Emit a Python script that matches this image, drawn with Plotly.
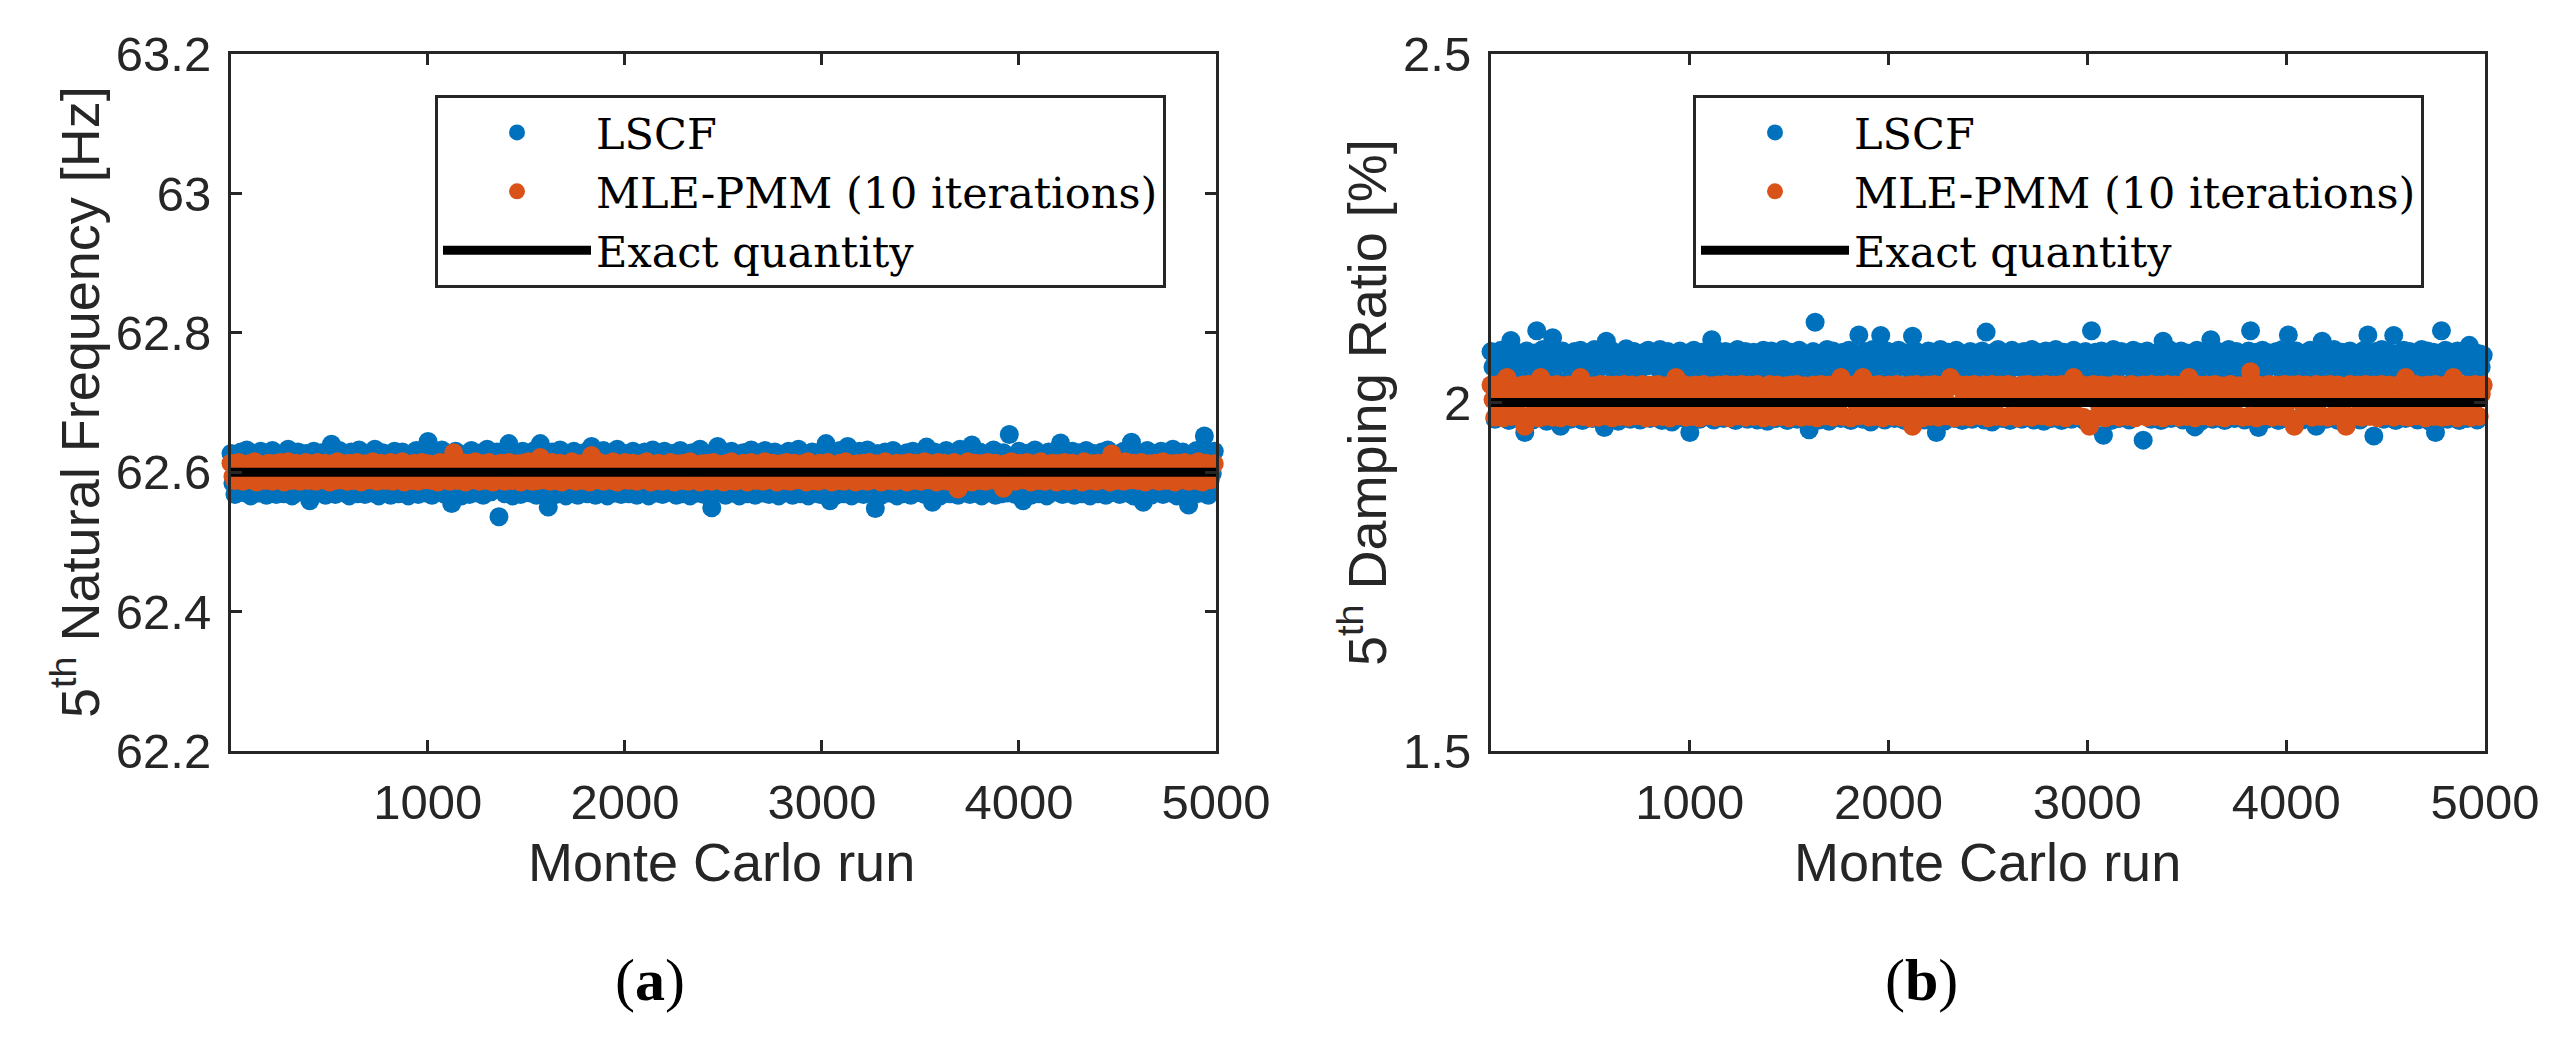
import plotly.graph_objects as go

# Monte Carlo run index (every 10th run is shown)
runs = list(range(1, 5001, 10))

EXACT_FREQ = 62.6
EXACT_DAMP = 2.0

# (a) 5th natural frequency [Hz]
lscf_freq = [
    62.627, 62.584, 62.568, 62.603, 62.619, 62.629, 62.571, 62.593, 62.632, 62.608, 62.566, 62.588, 62.624, 62.598, 62.570, 62.630, 62.612, 62.579, 62.567, 62.628,
    62.596, 62.631, 62.574, 62.568, 62.617, 62.626, 62.590, 62.569, 62.605, 62.633, 62.581, 62.566, 62.622, 62.600, 62.629, 62.572, 62.587, 62.614, 62.627, 62.567,
    62.559, 62.609, 62.630, 62.583, 62.570, 62.621, 62.628, 62.594, 62.567, 62.606, 62.573, 62.640, 62.589, 62.568, 62.615, 62.631, 62.599, 62.571, 62.625, 62.585,
    62.566, 62.629, 62.611, 62.576, 62.569, 62.632, 62.597, 62.620, 62.568, 62.586, 62.627, 62.602, 62.570, 62.633, 62.580, 62.566, 62.616, 62.628, 62.591, 62.572,
    62.624, 62.567, 62.607, 62.630, 62.583, 62.569, 62.618, 62.629, 62.595, 62.571, 62.566, 62.626, 62.604, 62.578, 62.631, 62.568, 62.589, 62.622, 62.613, 62.570,
    62.644, 62.592, 62.567, 62.610, 62.628, 62.574, 62.599, 62.632, 62.569, 62.584, 62.620, 62.627, 62.555, 62.605, 62.630, 62.571, 62.590, 62.566, 62.625, 62.614,
    62.578, 62.568, 62.631, 62.601, 62.621, 62.570, 62.587, 62.628, 62.567, 62.610, 62.633, 62.596, 62.572, 62.618, 62.582, 62.629, 62.536, 62.606, 62.626, 62.569,
    62.593, 62.641, 62.571, 62.566, 62.615, 62.627, 62.585, 62.568, 62.630, 62.603, 62.575, 62.622, 62.570, 62.598, 62.631, 62.567, 62.612, 62.641, 62.588, 62.569,
    62.624, 62.550, 62.607, 62.629, 62.580, 62.568, 62.617, 62.632, 62.594, 62.570, 62.566, 62.626, 62.600, 62.583, 62.630, 62.571, 62.567, 62.620, 62.609, 62.628,
    62.576, 62.569, 62.613, 62.637, 62.590, 62.567, 62.625, 62.604, 62.572, 62.631, 62.584, 62.566, 62.619, 62.628, 62.597, 62.570, 62.633, 62.608, 62.568, 62.581,
    62.627, 62.602, 62.569, 62.616, 62.630, 62.586, 62.567, 62.621, 62.594, 62.571, 62.629, 62.611, 62.566, 62.578, 62.632, 62.599, 62.570, 62.624, 62.587, 62.568,
    62.630, 62.606, 62.572, 62.615, 62.627, 62.583, 62.567, 62.596, 62.631, 62.569, 62.610, 62.622, 62.575, 62.566, 62.628, 62.600, 62.589, 62.570, 62.633, 62.614,
    62.568, 62.592, 62.626, 62.608, 62.549, 62.619, 62.580, 62.637, 62.571, 62.597, 62.629, 62.567, 62.612, 62.585, 62.630, 62.570, 62.603, 62.624, 62.566, 62.591,
    62.628, 62.574, 62.569, 62.617, 62.632, 62.595, 62.567, 62.609, 62.626, 62.582, 62.570, 62.631, 62.601, 62.568, 62.620, 62.588, 62.629, 62.572, 62.566, 62.613,
    62.625, 62.598, 62.571, 62.630, 62.586, 62.567, 62.618, 62.605, 62.633, 62.569, 62.579, 62.627, 62.593, 62.566, 62.611, 62.629, 62.570, 62.600, 62.622, 62.568,
    62.584, 62.615, 62.641, 62.572, 62.559, 62.628, 62.596, 62.567, 62.621, 62.631, 62.589, 62.569, 62.607, 62.637, 62.575, 62.566, 62.626, 62.612, 62.570, 62.630,
    62.599, 62.568, 62.623, 62.632, 62.581, 62.571, 62.614, 62.548, 62.627, 62.604, 62.567, 62.590, 62.629, 62.619, 62.570, 62.577, 62.631, 62.596, 62.566, 62.625,
    62.610, 62.569, 62.587, 62.628, 62.601, 62.567, 62.630, 62.574, 62.620, 62.571, 62.594, 62.626, 62.568, 62.636, 62.606, 62.583, 62.557, 62.629, 62.613, 62.570,
    62.566, 62.624, 62.597, 62.631, 62.578, 62.569, 62.616, 62.627, 62.589, 62.567, 62.633, 62.603, 62.572, 62.621, 62.585, 62.568, 62.639, 62.609, 62.570, 62.592,
    62.629, 62.566, 62.612, 62.626, 62.580, 62.571, 62.598, 62.632, 62.567, 62.618, 62.605, 62.569, 62.628, 62.587, 62.570, 62.654, 62.623, 62.595, 62.568, 62.614,
    62.630, 62.583, 62.559, 62.607, 62.627, 62.572, 62.567, 62.620, 62.632, 62.591, 62.569, 62.611, 62.626, 62.576, 62.566, 62.629, 62.600, 62.571, 62.617, 62.631,
    62.588, 62.642, 62.568, 62.604, 62.625, 62.570, 62.593, 62.630, 62.567, 62.613, 62.628, 62.581, 62.569, 62.622, 62.631, 62.597, 62.566, 62.608, 62.627, 62.574,
    62.569, 62.616, 62.629, 62.586, 62.567, 62.632, 62.602, 62.571, 62.621, 62.578, 62.626, 62.568, 62.610, 62.630, 62.592, 62.570, 62.624, 62.643, 62.566, 62.599,
    62.628, 62.583, 62.569, 62.557, 62.619, 62.631, 62.595, 62.567, 62.606, 62.627, 62.572, 62.614, 62.630, 62.568, 62.589, 62.625, 62.601, 62.570, 62.633, 62.579,
    62.566, 62.622, 62.608, 62.629, 62.571, 62.594, 62.553, 62.626, 62.585, 62.568, 62.631, 62.612, 62.570, 62.603, 62.652, 62.577, 62.567, 62.628, 62.598, 62.630,
]
mle_freq = [
    62.613, 62.594, 62.588, 62.605, 62.614, 62.598, 62.587, 62.610, 62.601, 62.612, 62.589, 62.596, 62.615, 62.586, 62.603, 62.611, 62.592, 62.588, 62.607, 62.613,
    62.597, 62.587, 62.612, 62.601, 62.589, 62.614, 62.593, 62.586, 62.609, 62.615, 62.599, 62.588, 62.604, 62.613, 62.590, 62.587, 62.611, 62.602, 62.614, 62.588,
    62.606, 62.612, 62.591, 62.587, 62.614, 62.600, 62.589, 62.608, 62.613, 62.595, 62.586, 62.610, 62.603, 62.588, 62.615, 62.597, 62.589, 62.612, 62.605, 62.587,
    62.613, 62.593, 62.588, 62.609, 62.614, 62.599, 62.586, 62.604, 62.612, 62.590, 62.589, 62.611, 62.615, 62.596, 62.587, 62.607, 62.613, 62.601, 62.588, 62.610,
    62.592, 62.614, 62.587, 62.603, 62.612, 62.589, 62.598, 62.615, 62.586, 62.606, 62.611, 62.594, 62.588, 62.613, 62.600, 62.587, 62.609, 62.614, 62.591, 62.589,
    62.612, 62.602, 62.588, 62.611, 62.595, 62.586, 62.614, 62.605, 62.589, 62.613, 62.598, 62.587, 62.610, 62.628, 62.592, 62.588, 62.607, 62.614, 62.600, 62.586,
    62.613, 62.596, 62.589, 62.609, 62.615, 62.591, 62.587, 62.604, 62.612, 62.599, 62.588, 62.614, 62.606, 62.586, 62.611, 62.593, 62.589, 62.613, 62.602, 62.587,
    62.610, 62.614, 62.594, 62.588, 62.607, 62.612, 62.590, 62.586, 62.613, 62.601, 62.589, 62.615, 62.597, 62.587, 62.611, 62.604, 62.588, 62.621, 62.593, 62.589,
    62.612, 62.600, 62.587, 62.614, 62.608, 62.588, 62.595, 62.613, 62.586, 62.605, 62.611, 62.591, 62.589, 62.615, 62.598, 62.587, 62.609, 62.612, 62.594, 62.588,
    62.613, 62.603, 62.586, 62.624, 62.596, 62.589, 62.610, 62.614, 62.592, 62.587, 62.606, 62.612, 62.599, 62.588, 62.615, 62.601, 62.586, 62.611, 62.594, 62.589,
    62.614, 62.597, 62.588, 62.608, 62.613, 62.590, 62.587, 62.604, 62.612, 62.598, 62.589, 62.615, 62.602, 62.586, 62.610, 62.593, 62.588, 62.613, 62.606, 62.587,
    62.611, 62.595, 62.589, 62.614, 62.600, 62.586, 62.609, 62.612, 62.592, 62.588, 62.613, 62.604, 62.587, 62.615, 62.597, 62.589, 62.610, 62.601, 62.586, 62.612,
    62.594, 62.588, 62.613, 62.605, 62.587, 62.614, 62.599, 62.589, 62.611, 62.608, 62.586, 62.612, 62.593, 62.588, 62.615, 62.602, 62.587, 62.610, 62.596, 62.589,
    62.613, 62.603, 62.586, 62.611, 62.614, 62.591, 62.588, 62.607, 62.612, 62.597, 62.587, 62.615, 62.600, 62.589, 62.609, 62.613, 62.594, 62.586, 62.606, 62.612,
    62.590, 62.588, 62.614, 62.601, 62.587, 62.611, 62.613, 62.596, 62.589, 62.608, 62.612, 62.593, 62.586, 62.615, 62.604, 62.588, 62.610, 62.598, 62.587, 62.613,
    62.605, 62.589, 62.612, 62.614, 62.592, 62.586, 62.609, 62.601, 62.588, 62.613, 62.597, 62.587, 62.615, 62.606, 62.589, 62.611, 62.594, 62.586, 62.612, 62.600,
    62.588, 62.613, 62.603, 62.587, 62.614, 62.596, 62.589, 62.610, 62.612, 62.591, 62.586, 62.607, 62.615, 62.599, 62.588, 62.611, 62.604, 62.587, 62.613, 62.595,
    62.589, 62.612, 62.600, 62.586, 62.614, 62.608, 62.588, 62.593, 62.613, 62.602, 62.587, 62.611, 62.615, 62.597, 62.589, 62.605, 62.612, 62.590, 62.586, 62.614,
    62.601, 62.588, 62.613, 62.609, 62.587, 62.594, 62.612, 62.614, 62.598, 62.576, 62.606, 62.611, 62.589, 62.592, 62.615, 62.603, 62.586, 62.610, 62.613, 62.596,
    62.588, 62.612, 62.604, 62.587, 62.614, 62.599, 62.589, 62.611, 62.613, 62.593, 62.586, 62.607, 62.577, 62.612, 62.601, 62.588, 62.615, 62.609, 62.587, 62.595,
    62.613, 62.602, 62.589, 62.611, 62.614, 62.591, 62.586, 62.606, 62.612, 62.598, 62.588, 62.615, 62.603, 62.587, 62.610, 62.594, 62.589, 62.613, 62.608, 62.586,
    62.612, 62.597, 62.588, 62.614, 62.605, 62.587, 62.610, 62.613, 62.592, 62.589, 62.611, 62.600, 62.586, 62.615, 62.596, 62.588, 62.609, 62.612, 62.603, 62.587,
    62.613, 62.594, 62.589, 62.610, 62.614, 62.599, 62.586, 62.626, 62.605, 62.588, 62.612, 62.611, 62.591, 62.587, 62.615, 62.602, 62.589, 62.608, 62.613, 62.596,
    62.588, 62.611, 62.614, 62.600, 62.586, 62.607, 62.612, 62.593, 62.589, 62.613, 62.604, 62.587, 62.610, 62.615, 62.597, 62.588, 62.609, 62.612, 62.590, 62.586,
    62.613, 62.603, 62.589, 62.611, 62.614, 62.595, 62.587, 62.606, 62.612, 62.599, 62.588, 62.615, 62.601, 62.586, 62.610, 62.613, 62.592, 62.589, 62.608, 62.612,
]

# (b) 5th damping ratio [%]
lscf_damp = [
    2.073, 2.051, 1.976, 2.034, 2.058, 2.075, 2.012, 2.047, 2.070, 1.974, 2.089, 2.055, 2.026, 2.072, 1.977, 2.049, 2.061, 1.957, 2.074, 2.040,
    2.053, 1.975, 2.071, 2.103, 2.046, 2.018, 2.076, 2.057, 1.973, 2.038, 2.072, 2.093, 2.050, 2.062, 1.978, 1.966, 2.074, 2.029, 2.055, 2.070,
    1.976, 2.048, 2.073, 2.059, 2.007, 2.075, 1.974, 2.052, 2.071, 2.035, 2.060, 1.977, 2.076, 2.045, 2.022, 2.072, 2.056, 1.964, 2.088, 1.975,
    2.050, 2.074, 2.031, 2.062, 1.973, 2.070, 2.047, 2.015, 2.077, 2.054, 1.976, 2.039, 2.073, 2.058, 2.044, 1.975, 2.071, 2.024, 2.052, 2.075,
    1.977, 2.057, 2.072, 2.003, 2.049, 2.076, 1.974, 2.061, 2.036, 2.073, 2.046, 1.972, 2.070, 2.055, 2.027, 2.074, 1.978, 2.051, 2.063, 2.071,
    1.957, 2.048, 2.075, 2.033, 2.059, 1.976, 2.072, 2.044, 2.019, 2.070, 2.056, 2.090, 1.975, 2.052, 2.074, 2.041, 2.060, 1.977, 2.073, 2.047,
    2.071, 2.009, 2.054, 1.974, 2.076, 2.049, 2.062, 2.030, 2.073, 1.976, 2.045, 2.058, 2.072, 2.021, 1.975, 2.070, 2.053, 2.075, 2.037, 1.973,
    2.060, 2.074, 2.046, 1.977, 2.071, 2.055, 2.013, 2.076, 2.048, 1.974, 2.063, 2.072, 2.034, 2.051, 1.976, 2.075, 2.057, 2.026, 2.070, 2.044,
    1.961, 2.052, 2.073, 2.115, 2.059, 1.975, 2.071, 2.040, 2.047, 2.076, 1.973, 2.056, 2.074, 2.016, 2.062, 2.049, 1.977, 2.072, 2.035, 2.058,
    2.075, 1.974, 2.050, 2.071, 2.028, 2.097, 2.054, 1.976, 2.073, 2.061, 2.045, 1.972, 2.076, 2.052, 2.011, 2.070, 2.096, 2.047, 1.975, 2.074,
    2.057, 2.038, 2.072, 1.977, 2.049, 2.075, 2.063, 2.024, 1.974, 2.071, 2.055, 2.046, 2.095, 1.976, 2.073, 2.052, 2.032, 2.070, 1.975, 2.059,
    2.074, 2.048, 2.017, 2.071, 1.957, 2.060, 2.076, 2.043, 1.973, 2.054, 2.072, 2.029, 2.058, 1.977, 2.075, 2.050, 2.062, 1.974, 2.070, 2.036,
    2.053, 2.073, 1.976, 2.046, 2.071, 2.008, 2.061, 2.074, 1.975, 2.101, 2.049, 2.056, 1.972, 2.072, 2.039, 2.076, 2.052, 1.977, 2.063, 2.070,
    2.044, 1.974, 2.075, 2.057, 2.023, 2.071, 2.050, 1.976, 2.073, 2.060, 2.014, 2.047, 2.076, 1.975, 2.055, 2.072, 2.033, 2.062, 1.973, 2.074,
    2.051, 2.070, 1.977, 2.045, 2.076, 2.058, 2.027, 1.974, 2.072, 2.053, 2.063, 2.040, 1.976, 2.075, 2.048, 2.019, 2.071, 2.059, 1.975, 2.073,
    2.056, 2.046, 2.103, 1.976, 2.072, 2.035, 2.061, 2.074, 1.953, 2.050, 2.070, 2.058, 1.974, 2.076, 2.042, 2.053, 1.977, 2.073, 2.025, 2.064,
    2.071, 1.975, 2.049, 2.075, 2.057, 2.012, 2.072, 2.044, 1.946, 2.060, 2.074, 2.052, 1.976, 2.070, 2.037, 2.063, 2.073, 1.974, 2.088, 2.048,
    2.055, 2.076, 1.977, 2.041, 2.072, 2.059, 2.020, 2.074, 1.975, 2.050, 2.071, 2.062, 2.031, 2.047, 1.965, 2.075, 2.056, 1.973, 2.070, 2.044,
    2.061, 2.072, 2.090, 1.976, 2.053, 2.074, 2.009, 2.046, 2.071, 1.974, 2.058, 2.076, 2.038, 2.050, 1.977, 2.073, 2.063, 2.027, 2.070, 1.975,
    2.049, 2.074, 2.103, 2.057, 2.035, 2.072, 1.964, 2.060, 2.075, 2.045, 1.976, 2.052, 2.071, 2.016, 2.064, 2.073, 1.974, 2.048, 2.076, 2.056,
    2.072, 2.097, 1.977, 2.043, 2.059, 2.074, 2.024, 2.051, 1.975, 2.070, 2.062, 2.047, 2.075, 2.033, 1.973, 1.966, 2.056, 2.071, 2.088, 2.050,
    1.976, 2.073, 2.058, 2.014, 2.076, 2.046, 1.974, 2.061, 2.072, 2.039, 2.053, 1.977, 2.074, 2.049, 2.028, 2.070, 2.063, 1.975, 2.055, 2.075,
    2.044, 2.097, 2.071, 2.057, 1.952, 2.073, 2.050, 2.019, 2.076, 1.976, 2.060, 2.072, 2.042, 2.054, 2.096, 1.974, 2.070, 2.047, 2.064, 2.075,
    1.977, 2.052, 2.073, 2.036, 2.058, 2.071, 1.975, 2.045, 2.076, 2.061, 2.011, 2.074, 1.973, 2.050, 2.072, 1.957, 2.056, 2.070, 2.103, 2.043,
    2.075, 1.976, 2.059, 2.072, 2.030, 2.048, 2.074, 1.974, 2.062, 2.071, 2.053, 1.977, 2.082, 2.046, 2.073, 2.057, 1.975, 2.070, 2.051, 2.068,
]
mle_damp = [
    2.025, 2.004, 1.979, 2.016, 2.026, 1.992, 1.978, 2.011, 2.036, 1.985, 1.980, 2.021, 2.024, 1.998, 1.979, 2.008, 2.025, 1.966, 2.019, 2.026,
    1.981, 2.002, 2.024, 2.013, 1.978, 2.036, 1.995, 1.980, 2.022, 2.025, 2.006, 1.979, 2.017, 2.026, 1.988, 1.978, 2.024, 2.010, 1.981, 2.025,
    2.000, 1.979, 2.023, 2.026, 1.993, 2.036, 1.980, 2.014, 2.025, 2.005, 1.978, 2.020, 2.024, 1.986, 1.979, 2.026, 2.009, 1.981, 2.023, 2.025,
    1.997, 1.978, 2.018, 2.025, 2.003, 1.980, 2.024, 2.026, 1.990, 1.979, 2.012, 2.025, 2.021, 1.981, 1.999, 2.024, 2.026, 1.984, 1.978, 2.015,
    2.025, 2.007, 1.979, 2.022, 2.026, 1.994, 1.980, 2.016, 2.024, 2.001, 1.978, 2.025, 2.010, 2.036, 1.981, 1.989, 2.023, 2.026, 1.979, 2.004,
    2.024, 1.980, 2.019, 2.025, 1.996, 1.978, 2.013, 2.026, 2.006, 1.981, 2.022, 2.024, 1.987, 1.979, 2.025, 2.009, 1.980, 2.023, 2.026, 1.993,
    1.978, 2.017, 2.025, 2.002, 1.981, 2.024, 2.026, 1.991, 1.979, 2.014, 2.025, 2.020, 1.980, 1.998, 2.026, 2.023, 1.985, 1.978, 2.011, 2.024,
    2.026, 1.995, 1.979, 2.021, 2.025, 2.005, 1.980, 2.016, 2.024, 1.988, 1.978, 2.025, 2.012, 1.981, 2.026, 2.000, 1.979, 2.022, 2.024, 1.992,
    1.980, 2.018, 2.025, 2.007, 1.978, 2.024, 2.026, 1.994, 1.981, 2.013, 2.025, 2.021, 1.979, 2.003, 2.024, 1.986, 2.036, 1.980, 2.019, 2.025,
    2.009, 1.978, 2.023, 2.026, 1.997, 1.981, 2.015, 2.036, 2.024, 1.990, 1.979, 2.025, 2.006, 1.980, 2.022, 2.026, 1.999, 1.978, 2.017, 2.024,
    2.025, 1.993, 1.980, 2.020, 2.026, 2.004, 1.979, 2.014, 2.024, 1.987, 1.981, 2.025, 1.966, 2.011, 2.026, 2.023, 1.996, 1.978, 2.018, 2.025,
    2.002, 1.980, 2.024, 2.026, 1.991, 1.979, 2.016, 2.025, 2.008, 1.981, 2.021, 2.036, 1.985, 1.978, 2.024, 2.026, 1.998, 1.980, 2.013, 2.025,
    2.022, 1.979, 2.005, 2.026, 2.024, 1.989, 1.981, 2.017, 2.025, 2.001, 1.978, 2.023, 2.026, 1.994, 1.980, 2.012, 2.025, 2.019, 1.979, 2.007,
    2.026, 1.981, 2.015, 2.024, 1.997, 1.978, 2.021, 2.025, 2.003, 1.980, 2.026, 2.010, 1.979, 1.992, 2.024, 2.025, 1.986, 1.981, 2.018, 2.026,
    2.006, 1.979, 2.023, 2.025, 1.995, 1.980, 2.014, 2.026, 2.020, 1.978, 2.001, 2.024, 1.988, 2.036, 2.025, 1.981, 2.009, 2.026, 1.979, 2.017,
    2.024, 1.966, 2.011, 2.026, 2.022, 1.980, 1.996, 2.025, 2.004, 1.978, 2.024, 2.018, 1.981, 1.990, 2.026, 2.013, 1.979, 2.025, 2.023, 1.985,
    1.980, 2.020, 2.026, 2.002, 1.978, 2.024, 2.015, 1.981, 2.025, 1.994, 1.979, 2.023, 2.026, 2.007, 1.980, 2.019, 2.025, 1.987, 1.978, 2.012,
    2.026, 2.024, 1.981, 1.998, 2.025, 2.016, 1.979, 2.023, 2.026, 1.983, 1.980, 2.036, 2.021, 2.005, 1.978, 2.024, 2.025, 1.993, 1.981, 2.014,
    2.025, 2.022, 1.979, 2.009, 2.026, 1.988, 1.980, 2.024, 2.017, 1.978, 2.000, 2.025, 2.026, 1.991, 1.981, 2.020, 2.024, 2.006, 1.979, 2.013,
    2.026, 1.980, 2.044, 2.023, 1.996, 1.978, 2.025, 2.019, 2.003, 1.981, 2.024, 2.026, 1.989, 1.979, 2.015, 2.025, 2.010, 1.980, 2.022, 2.026,
    1.997, 1.978, 2.024, 2.025, 1.966, 2.012, 2.026, 2.021, 1.981, 1.993, 2.025, 2.024, 2.004, 1.979, 2.017, 2.026, 1.986, 1.980, 2.023, 2.025,
    2.008, 1.979, 2.026, 2.020, 1.981, 1.999, 2.025, 2.024, 1.990, 1.978, 1.966, 2.014, 2.026, 2.023, 1.980, 2.005, 2.025, 1.984, 1.979, 2.021,
    2.026, 2.011, 1.980, 2.024, 2.025, 1.995, 1.978, 2.018, 2.026, 2.002, 1.981, 2.023, 2.025, 1.987, 1.979, 2.016, 2.024, 2.026, 1.992, 1.980,
    2.036, 2.022, 1.979, 2.007, 2.025, 2.026, 1.981, 1.996, 2.024, 2.013, 1.978, 2.025, 2.020, 1.985, 1.980, 2.026, 2.024, 2.001, 1.979, 2.017,
    2.025, 1.980, 2.009, 2.024, 2.036, 1.993, 1.978, 2.021, 2.026, 2.004, 1.981, 2.025, 2.015, 1.979, 1.988, 2.026, 2.023, 1.980, 2.012, 2.025,
]

x_ticks = [1000, 2000, 3000, 4000, 5000]
freq_ticks = [62.2, 62.4, 62.6, 62.8, 63.0, 63.2]
freq_labels = ["62.2", "62.4", "62.6", "62.8", "63", "63.2"]
damp_ticks = [1.5, 2.0, 2.5]
damp_labels = ["1.5", "2", "2.5"]

W, H = 2551, 1054
PAGE_PAD = 8  # the page body adds 8px before the figure starts
BLUE = "#0072BD"
ORANGE = "#D95319"
AXIS = "#262626"
SANS = "Liberation Sans, Arial, sans-serif"
SERIF = "DejaVu Serif, Liberation Serif, serif"
CAPTION = "Liberation Serif, Times New Roman, serif"


def px_x(p):
    return (p - PAGE_PAD) / W


def px_y(p):
    return 1 - (p - PAGE_PAD) / H


fig = go.Figure()

panels = [
    ("x", "y", "legend", lscf_freq, mle_freq, EXACT_FREQ),
    ("x2", "y2", "legend2", lscf_damp, mle_damp, EXACT_DAMP),
]
for xa, ya, lg, lscf, mle, exact in panels:
    fig.add_trace(go.Scatter(
        x=runs, y=lscf, mode="markers", name="LSCF",
        marker=dict(color=BLUE, size=19, line=dict(width=0)),
        cliponaxis=False, xaxis=xa, yaxis=ya, legend=lg,
    ))
    fig.add_trace(go.Scatter(
        x=runs, y=mle, mode="markers", name="MLE-PMM (10 iterations)",
        marker=dict(color=ORANGE, size=19, line=dict(width=0)),
        cliponaxis=False, xaxis=xa, yaxis=ya, legend=lg,
    ))
    fig.add_trace(go.Scatter(
        x=[runs[0], 5000], y=[exact, exact], mode="lines", name="Exact quantity",
        line=dict(color="black", width=9),
        cliponaxis=False, xaxis=xa, yaxis=ya, legend=lg,
    ))

axis_common = dict(
    showline=True, linecolor=AXIS, linewidth=3, mirror="ticks",
    ticks="inside", ticklen=11, tickwidth=3, tickcolor=AXIS,
    showgrid=False, zeroline=False, automargin=False,
    tickfont=dict(family=SANS, size=49, color=AXIS),
)

legend_common = dict(
    xanchor="left", yanchor="top",
    bgcolor="white", bordercolor=AXIS, borderwidth=3,
    font=dict(family=SERIF, size=43, color="black"),
    itemwidth=148, traceorder="normal",
)

fig.update_layout(
    width=W, height=H,
    margin=dict(l=0, r=0, t=0, b=0, autoexpand=False),
    paper_bgcolor="white", plot_bgcolor="white",
    xaxis=dict(domain=[px_x(231), px_x(1216)], range=[1, 5000],
               tickvals=x_ticks, ticklabelstandoff=6, anchor="y", **axis_common),
    yaxis=dict(domain=[px_y(751), px_y(54)], range=[62.2, 63.2],
               tickvals=freq_ticks, ticktext=freq_labels, ticklabelstandoff=7,
               anchor="x", **axis_common),
    xaxis2=dict(domain=[px_x(1491), px_x(2485)], range=[1, 5000],
                tickvals=x_ticks, ticklabelstandoff=6, anchor="y2", **axis_common),
    yaxis2=dict(domain=[px_y(751), px_y(54)], range=[1.5, 2.5],
                tickvals=damp_ticks, ticktext=damp_labels, ticklabelstandoff=7,
                anchor="x2", **axis_common),
    legend=dict(x=px_x(435), y=px_y(95), **legend_common),
    legend2=dict(x=px_x(1693), y=px_y(95), **legend_common),
    showlegend=True,
)

title_font = dict(family=SANS, size=54, color=AXIS)
annotations = [
    dict(text="5<sup>th</sup> Natural Frequency [Hz]", x=px_x(76), y=px_y(402),
         textangle=-90, font=title_font),
    dict(text="5<sup>th</sup> Damping Ratio [%]", x=px_x(1363), y=px_y(403),
         textangle=-90, font=title_font),
    dict(text="Monte Carlo run", x=px_x(721), y=px_y(862), font=title_font),
    dict(text="Monte Carlo run", x=px_x(1987), y=px_y(862), font=title_font),
    dict(text="(<b>a</b>)", x=px_x(650), y=px_y(980),
         font=dict(family=CAPTION, size=60, color="black")),
    dict(text="(<b>b</b>)", x=px_x(1921), y=px_y(980),
         font=dict(family=CAPTION, size=60, color="black")),
]
for a in annotations:
    fig.add_annotation(xref="paper", yref="paper", showarrow=False,
                       xanchor="center", yanchor="middle", **a)

fig.write_html("out.html")
